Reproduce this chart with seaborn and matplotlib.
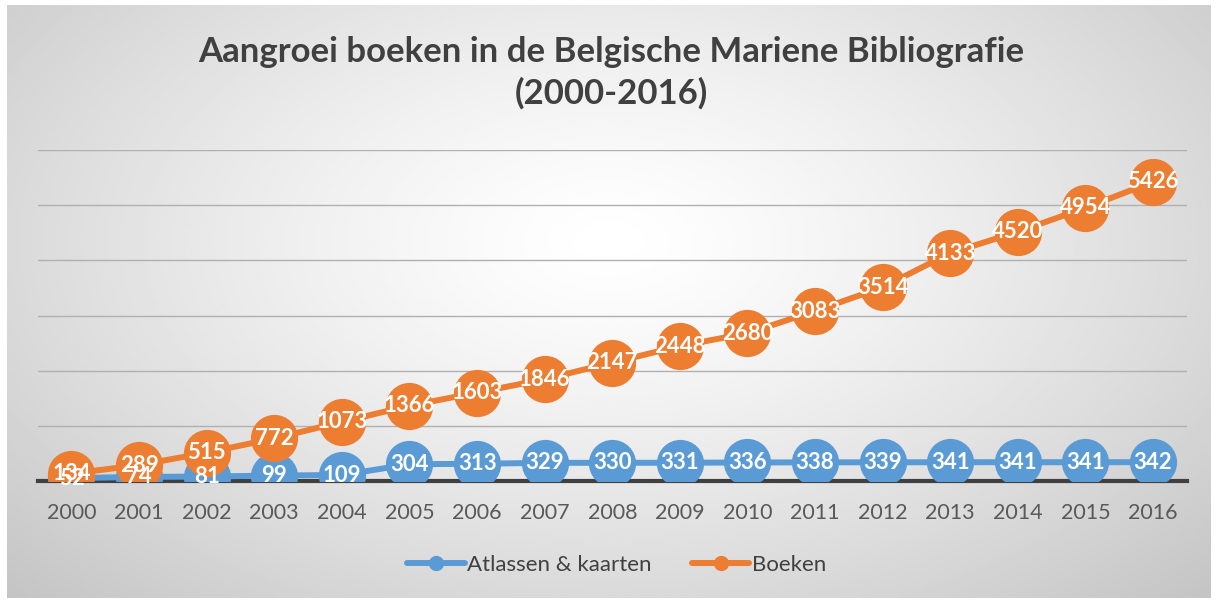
import numpy as np
import pandas as pd
import matplotlib
matplotlib.use("Agg")
import matplotlib.pyplot as plt
from matplotlib.lines import Line2D
import seaborn as sns

# Data
years = ["2000", "2001", "2002", "2003", "2004", "2005", "2006", "2007", "2008",
         "2009", "2010", "2011", "2012", "2013", "2014", "2015", "2016"]
atlassen = [52, 74, 81, 99, 109, 304, 313, 329, 330, 331, 336, 338, 339, 341, 341, 341, 342]
boeken = [134, 289, 515, 772, 1073, 1366, 1603, 1846, 2147, 2448, 2680, 3083, 3514, 4133, 4520, 4954, 5426]
series_names = ["Atlassen & kaarten", "Boeken"]
colors = ["#5B9BD5", "#ED7D31"]

df = pd.DataFrame({"idx": range(len(years)), "year": years,
                   series_names[0]: atlassen, series_names[1]: boeken})

sns.set_style("white")
plt.rcParams['font.family'] = ['Lato', 'DejaVu Sans']

fig = plt.figure(figsize=(12.16, 6.03), dpi=100)

# radial gradient background of the chart area
bg = fig.add_axes([0.006, 0.008, 0.99, 0.984], zorder=-10)
gx, gy = np.meshgrid(np.linspace(0, 1, 400), np.linspace(0, 1, 200))
r = np.sqrt(((gx - 0.5) / 0.75) ** 2 + ((gy - 0.4) / 0.9) ** 2)
shade = 1.0 - 0.25 * np.clip(r, 0, 1) ** 1.3
bg.imshow(shade, cmap="gray", vmin=0, vmax=1, extent=[0, 1, 0, 1],
          aspect="auto", origin="upper")
bg.axis("off")

ax = fig.add_axes([0.031, 0.2023, 0.945, 0.5487])
ax.patch.set_alpha(0)

for name, col in zip(series_names, colors):
    sns.lineplot(data=df, x="idx", y=name, ax=ax, color=col, lw=4.3,
                 marker="o", markersize=34, markeredgewidth=0, zorder=3)
for line in ax.lines:
    line.set_markersize(34)
    line.set_markeredgewidth(0)

for name in series_names:
    for i, v in enumerate(df[name]):
        ax.text(i, v, str(v), ha="center", va="center", color="white",
                fontsize=16, fontweight="bold", zorder=5)

ax.set_xlim(-0.5, len(years) - 0.5)
ax.set_ylim(0, 6000)
ax.set_yticks(range(0, 6001, 1000))
ax.set_yticklabels([])
ax.yaxis.grid(True, color="#b0b0b0", lw=1)
ax.set_axisbelow(True)
ax.set_xticks(df["idx"])
ax.set_xticklabels(years, fontsize=15.5, color="#595959")
ax.tick_params(axis="x", length=0, pad=16)
ax.tick_params(axis="y", length=0)
ax.set_xlabel("")
ax.set_ylabel("")
for s in ["left", "right", "top"]:
    ax.spines[s].set_visible(False)
ax.spines["bottom"].set_color("#404040")
ax.spines["bottom"].set_linewidth(3)
ax.spines["bottom"].set_zorder(2)

fig.text(0.503, 0.879, "Aangroei boeken in de Belgische Mariene Bibliografie\n(2000-2016)",
         ha="center", va="center", fontsize=25, fontweight="bold",
         color="#404040", linespacing=1.35)

handles = [Line2D([0], [0], color=c, lw=4.3, marker="o", markersize=10,
                  solid_capstyle="round") for c in colors]
leg = fig.legend(handles, series_names, loc="center", bbox_to_anchor=(0.507, 0.063),
                 ncol=2, frameon=False, fontsize=16, handlelength=2.6,
                 handletextpad=0.1, columnspacing=1.8)
for t in leg.get_texts():
    t.set_color("#404040")

fig.savefig("out.png", dpi=100)
